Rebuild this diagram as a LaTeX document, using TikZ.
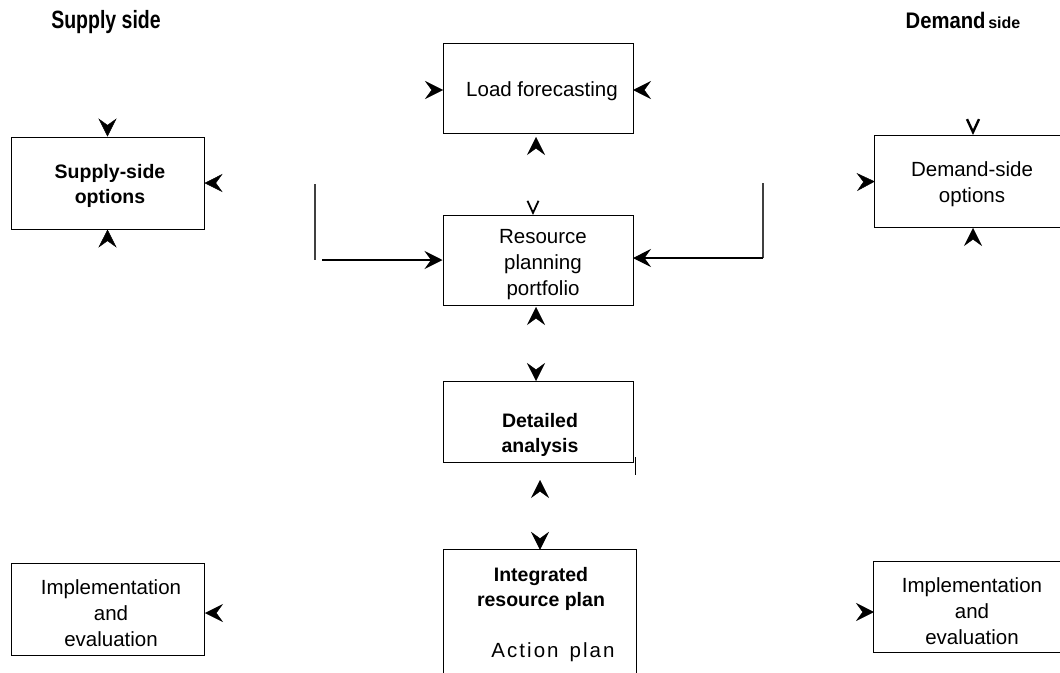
\documentclass[tikz,border=0pt]{standalone}
\usepackage{fontspec}
\setmainfont{Liberation Sans}
\newfontfamily\spacedfont[LetterSpace=10]{Liberation Sans}
\usetikzlibrary{arrows.meta,calc}
\begin{document}
\begin{tikzpicture}[x=1pt,y=-1pt,
  frame/.style={draw, line width=1.0pt, inner sep=0pt, minimum width=#1},
  openbox/.style={draw=none, inner sep=0pt, minimum width=#1},
  edge/.style={line width=1.0pt},
  txt/.style={align=center, inner sep=0pt, font=\fontsize{20.5}{26}\selectfont},
  btxt/.style={align=center, inner sep=0pt, font=\fontsize{19.5}{25}\selectfont\bfseries},
  tipin/.style={white, line width=0.4pt, -{Stealth[length=18pt,width=18pt,inset=6.5pt,color=black]}},
  vtip/.style={white, line width=0.4pt, -{Straight Barb[length=12pt,width=11pt,color=black,line width=1.8pt]}},
  conn/.style={line width=1.1pt, -{Stealth[length=18pt,width=18pt,inset=6.5pt]}},
  plain/.style={line width=1.3pt, draw=black!75}
]
\useasboundingbox (0,0) rectangle (1060,672);

% titles
\node (tsup) at (106,22) {\scalebox{0.78}[1]{\fontsize{25}{30}\selectfont\bfseries Supply side}};
\node (tdem) at (963,20) {\scalebox{0.9}[1]{\fontsize{22.5}{27}\selectfont\bfseries Demand} {\fontsize{16}{20}\selectfont\bfseries side}};

% boxes
\node[frame=193pt, minimum height=92pt] (sso) at (107.5,183) {};
\node[frame=190pt, minimum height=90pt] (load) at (538,88) {};
\node[frame=190pt, minimum height=90pt] (rpp) at (538,260) {};
\node[frame=190pt, minimum height=81pt] (det) at (538,421.5) {};
\node[openbox=192pt, minimum height=130pt] (irp) at (540,615) {};
\draw[edge] (irp.south west) -- (irp.north west) -- (irp.north east) -- (irp.south east);
\node[openbox=195pt, minimum height=91pt] (dso) at (972.5,181.5) {};
\draw[edge] (dso.north east) -- (dso.north west) -- (dso.south west) -- (dso.south east);
\node[frame=193pt, minimum height=92pt] (iel) at (107.5,609) {};
\node[openbox=196pt, minimum height=90pt] (ier) at (972,607) {};
\draw[edge] (ier.north east) -- (ier.north west) -- (ier.south west) -- (ier.south east);

% texts
\node[btxt] (tsso) at (110,186) {Supply-side\\options};
\node[txt] (tload) at (542,91) {Load forecasting};
\node[txt] (trpp) at (543,265) {Resource\\planning\\portfolio};
\node[btxt] (tdet) at (540,435) {Detailed\\analysis};
\node[btxt] (tirp) at (541,589) {Integrated\\resource plan};
\node[txt] (tact) at (553,652) {\spacedfont Action\hspace{11pt}plan};
\node[txt] (tdso) at (972,184) {Demand-side\\options};
\node[txt] (tiel) at (111,613) {Implementation\\and\\evaluation};
\node[txt] (tier) at (972,611) {Implementation\\and\\evaluation};

% supply-side options arrows
\coordinate (s1) at (107.5,119);
\draw[tipin] (s1) -- (sso.north);
\coordinate (s2) at (107.5,247);
\draw[tipin] (s2) -- (sso.south);
\coordinate (s3) at (223,183);
\draw[tipin] (s3) -- (sso.east);

% load forecasting arrows
\coordinate (l1) at (425,90);
\coordinate (l1t) at (443,90);
\draw[tipin] (l1) -- (l1t);
\coordinate (l2) at (651,90);
\coordinate (l2t) at (633,90);
\draw[tipin] (l2) -- (l2t);
\coordinate (l3) at (536,155);
\coordinate (l3t) at (536,137);
\draw[tipin] (l3) -- (l3t);

% resource planning portfolio
\coordinate (r0) at (533,202);
\coordinate (r0t) at (533,215);
\draw[vtip] (r0) -- (r0t);
\coordinate (lv) at (315,184);
\coordinate (lvb) at (315,260);
\draw[plain] (lv) -- (lvb);
\coordinate (lh) at (322,260);
\draw[conn] (lh) -- (rpp.west);
\coordinate (rv) at (763,183);
\coordinate (rvb) at (763,258);
\draw[plain] (rv) -- (rvb);
\coordinate (rpe) at (633,258);
\draw[conn] (rvb) -- (rpe);
\coordinate (r4) at (536,325);
\coordinate (r4t) at (536,307);
\draw[tipin] (r4) -- (r4t);

% detailed analysis
\coordinate (d1) at (536,363);
\coordinate (d1t) at (536,381);
\draw[tipin] (d1) -- (d1t);
\coordinate (d2) at (540,498);
\coordinate (d2t) at (540,480);
\draw[tipin] (d2) -- (d2t);
\coordinate (dx1) at (635,457);
\coordinate (dx2) at (635,475);
\draw[edge] (dx1) -- (dx2);

% integrated resource plan
\coordinate (i1) at (540,532);
\draw[tipin] (i1) -- (irp.north);

% demand-side options
\coordinate (m1) at (973,121);
\coordinate (m1t) at (973,135);
\draw[vtip, -{Straight Barb[length=13pt,width=12pt,color=black,line width=2.4pt]}] (m1) -- (m1t);
\coordinate (m2) at (857,182);
\draw[tipin] (m2) -- (dso.west);
\coordinate (m3) at (973,246);
\coordinate (m3t) at (973,228);
\draw[tipin] (m3) -- (m3t);

% implementation boxes
\coordinate (e1) at (223,613);
\coordinate (e1t) at (205,613);
\draw[tipin] (e1) -- (e1t);
\coordinate (e2) at (856,612);
\coordinate (e2t) at (874,612);
\draw[tipin] (e2) -- (e2t);
\end{tikzpicture}
\end{document}
